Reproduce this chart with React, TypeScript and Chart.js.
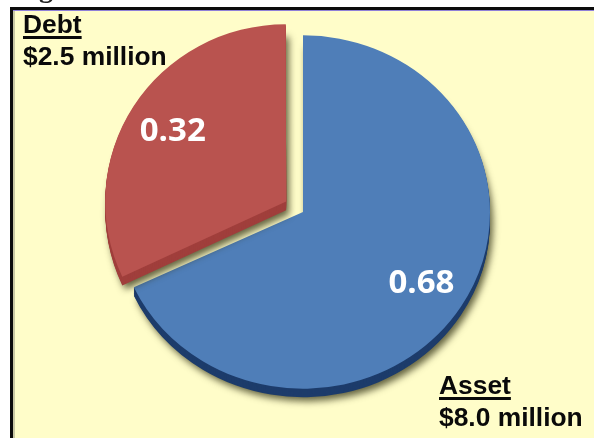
import { useEffect, useRef } from "react";
import { Chart, registerables } from "chart.js";

Chart.register(...registerables);

const categories = ["Asset", "Debt"];
const shares = [0.68, 0.32];
const amounts = ["$8.0 million", "$2.5 million"];
const sliceColors = ["#4f7eb8", "#b9534f"];
const edgeColors = ["#1d3c6b", "#a03f3c"];
const pull = [0, 80];
const sliceRadius = [187, 179];
const sliceSquash = [0.945, 0.98];

const PANEL = "#fffdc9";

// Draws the frame, the sliced-off heading, the raised pie edges and all the text.
const piePanel = {
  id: "piePanel",
  afterDatasetUpdate(chart: any) {
    chart.getDatasetMeta(0).data.forEach((arc: any, i: number) => {
      arc.outerRadius = sliceRadius[i];
    });
  },
  beforeDraw(chart: any) {
    const { ctx, width, height } = chart;
    ctx.save();
    ctx.fillStyle = "#ffffff";
    ctx.fillRect(0, 0, width, height);
    ctx.fillStyle = PANEL;
    ctx.fillRect(13, 11, width - 13, height - 11);
    ctx.fillStyle = "#c9c8a4";
    ctx.fillRect(13, 11, 2, height - 11);
    ctx.fillStyle = "#0c0c0c";
    ctx.fillRect(10, 7, width - 10, 3);
    ctx.fillRect(10, 7, 3, height - 7);
    ctx.fillStyle = "#8f80d8";
    ctx.fillRect(13, 10, width - 13, 1);
    ctx.fillStyle = "#222222";
    ctx.font = "bold 28px 'Liberation Serif'";
    ctx.textBaseline = "alphabetic";
    ctx.fillText("Fig", 14, -3);
    ctx.restore();
  },
  // Each slice is flattened on its own, so the arcs are painted here in place of the default pass.
  beforeDatasetDraw(chart: any) {
    const { ctx } = chart;
    const meta = chart.getDatasetMeta(0);
    meta.data.forEach((arc: any, i: number) => {
      const recolored = (c: string) =>
        Object.assign(Object.create(arc), { options: { ...arc.options, backgroundColor: c } });
      ctx.save();
      ctx.translate(0, arc.y);
      ctx.scale(1, sliceSquash[i]);
      ctx.translate(0, -arc.y);
      ctx.save();
      ctx.shadowColor = "rgba(50,50,20,0.75)";
      ctx.shadowBlur = 7;
      ctx.shadowOffsetX = 3;
      ctx.shadowOffsetY = 4;
      ctx.translate(0, 9);
      recolored(edgeColors[i]).draw(ctx);
      ctx.restore();
      for (let k = 8; k > 0; k--) {
        ctx.save();
        ctx.translate(0, k);
        recolored(edgeColors[i]).draw(ctx);
        ctx.restore();
      }
      arc.draw(ctx);
      ctx.restore();
    });
    return false;
  },
  afterDatasetsDraw(chart: any) {
    const { ctx } = chart;
    const meta = chart.getDatasetMeta(0);
    ctx.save();
    ctx.fillStyle = "#ffffff";
    ctx.font = "bold 33px 'Open Sans'";
    ctx.textAlign = "center";
    ctx.textBaseline = "middle";
    meta.data.forEach((arc: any, i: number) => {
      const mid = (arc.startAngle + arc.endAngle) / 2;
      const along = arc.outerRadius * 0.75 + arc.options.offset / 4;
      const x = arc.x + Math.cos(mid) * along;
      const y = arc.y + Math.sin(mid) * along * sliceSquash[i];
      ctx.fillText(shares[i].toFixed(2), x, y + 1);
    });
    ctx.restore();

    ctx.save();
    ctx.fillStyle = "#0a0a0a";
    ctx.font = "bold 26.4px 'Liberation Sans'";
    ctx.textBaseline = "alphabetic";
    const block = (i: number, x: number, y: number) => {
      ctx.fillText(categories[i], x, y);
      const w = ctx.measureText(categories[i]).width;
      ctx.fillRect(x, y + 3, w, 3);
      ctx.fillText(amounts[i], x, y + 32);
    };
    block(1, 23, 33);
    block(0, 439, 394);
    ctx.restore();
  },
};

export default function App() {
  const ref = useRef<HTMLCanvasElement>(null);
  useEffect(() => {
    const chart = new Chart(ref.current!, {
      type: "pie",
      data: {
        labels: categories,
        datasets: [
          {
            data: shares,
            backgroundColor: sliceColors,
            borderWidth: 0,
            offset: pull,
            hoverOffset: 0,
          },
        ],
      },
      options: {
        responsive: false,
        animation: false,
        radius: 187,
        layout: { padding: { left: 12, bottom: 14 } },
        plugins: { legend: { display: false }, tooltip: { enabled: false }, title: { display: false } },
      },
      plugins: [piePanel],
    } as any);
    return () => chart.destroy();
  }, []);
  return (
    <div style={{ position: "fixed", left: 0, top: 0, width: 594, height: 438 }}>
      <canvas ref={ref} width={594} height={438} style={{ display: "block" }} />
    </div>
  );
}
